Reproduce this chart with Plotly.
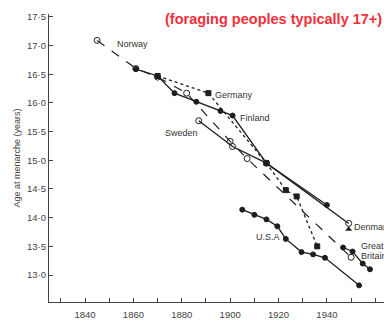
import plotly.graph_objects as go

# ---- data ----
norway_x = [1845, 1861, 1870, 1882, 1900, 1907, 1950]
norway_y = [17.09, 16.6, 16.45, 16.17, 15.33, 15.03, 13.31]

finland_x = [1861, 1870, 1877, 1886, 1896, 1901, 1915, 1940]
finland_y = [16.59, 16.47, 16.17, 16.02, 15.86, 15.78, 14.95, 14.22]

germany_x = [1870, 1891, 1915, 1923, 1927.5, 1936]
germany_y = [16.47, 16.17, 14.95, 14.48, 14.37, 13.5]

sweden_x = [1887, 1901, 1915, 1949]
sweden_y = [15.69, 15.24, 14.95, 13.9]

denmark_x = [1949]
denmark_y = [13.8]

usa_x = [1905, 1910, 1915, 1919.5, 1923, 1929.5, 1934.3, 1939.2, 1953.3]
usa_y = [14.14, 14.05, 13.97, 13.85, 13.63, 13.4, 13.36, 13.3, 12.82]

gb_x = [1946.7, 1950.6, 1954.8, 1957.8]
gb_y = [13.48, 13.41, 13.2, 13.1]

ytick_vals = [13.0, 13.5, 14.0, 14.5, 15.0, 15.5, 16.0, 16.5, 17.0, 17.5]
ytick_text = [f"{v:.1f}".replace(".", "·") for v in ytick_vals]
xtick_vals = list(range(1830, 1961, 10))
xtick_text = [str(v) if v % 20 == 0 else "" for v in xtick_vals]

INK = "#1e1e1e"
FONT = "Liberation Sans, Arial"
fig = go.Figure()

def add(x, y, dash, symbol, size=5, width=1.3, color=INK):
    fig.add_trace(go.Scatter(
        x=x, y=y, mode="lines+markers",
        line=dict(color=color, width=width, dash=dash),
        marker=dict(symbol=symbol, size=size, color=color,
                    line=dict(color=color, width=1)),
        showlegend=False, hoverinfo="skip"))

add(norway_x, norway_y, "dash", "circle-open", size=6, width=1.2)
add(finland_x, finland_y, "solid", "circle", size=5)
add(germany_x, germany_y, "dot", "square", size=5, width=1.3)
add(sweden_x, sweden_y, "solid", "circle-open", size=6)
add(usa_x, usa_y, "solid", "circle", size=5)
add(gb_x, gb_y, "solid", "circle", size=5)
fig.add_trace(go.Scatter(x=denmark_x, y=denmark_y, mode="markers",
                         marker=dict(symbol="triangle-up", size=6, color=INK),
                         showlegend=False, hoverinfo="skip"))

labels = [
    ("Norway", 1852.4, 17.02, "left"),
    ("Germany", 1892.9, 16.14, "left"),
    ("Finland", 1903.2, 15.74, "left"),
    ("Sweden", 1887.5, 15.48, "right"),
    ("U.S.A", 1921.4, 13.67, "right"),
    ("Denmark", 1950.2, 13.84, "left"),
    ("Great", 1953.2, 13.5, "left"),
    ("Britain", 1953.2, 13.33, "left"),
]
for t, x, y, a in labels:
    fig.add_annotation(x=x, y=y, text=t, showarrow=False, xanchor=a,
                       yanchor="middle", font=dict(family=FONT, size=9, color="#333"))

fig.add_annotation(xref="paper", yref="paper", x=1.0, y=1.0, yshift=5,
                   text="<b>(foraging peoples typically 17+)</b>", showarrow=False,
                   xanchor="right", yanchor="top",
                   font=dict(family=FONT, size=14.5, color="#f0303a"))

# x-axis title, mostly below the visible window as in the reference
fig.add_annotation(xref="paper", yref="paper", x=0.54, y=0, yshift=-24,
                   text="Year of menarche", showarrow=False,
                   xanchor="center", yanchor="top",
                   font=dict(family=FONT, size=9, color="#555"))

fig.update_layout(
    width=384, height=320,
    margin=dict(l=49, r=0, t=14, b=15),
    paper_bgcolor="white", plot_bgcolor="white",
    xaxis=dict(range=[1825.1, 1963.6], tickvals=xtick_vals, ticktext=xtick_text,
               ticks="inside", ticklen=4, tickcolor="#444", showline=True,
               linecolor="#444", linewidth=1.2, showgrid=False, zeroline=False,
               ticklabelstandoff=3,
               tickfont=dict(family=FONT, size=9.5, color="#444")),
    yaxis=dict(range=[12.53, 17.55], tickvals=ytick_vals, ticktext=ytick_text,
               ticks="inside", ticklen=4, tickcolor="#444", showline=True,
               linecolor="#444", linewidth=1.2, showgrid=False, zeroline=False,
               tickfont=dict(family=FONT, size=9.5, color="#444"),
               title=dict(text="Age at menarche (years)", standoff=4,
                          font=dict(family=FONT, size=9, color="#444"))),
)

fig.write_html("out.html")
